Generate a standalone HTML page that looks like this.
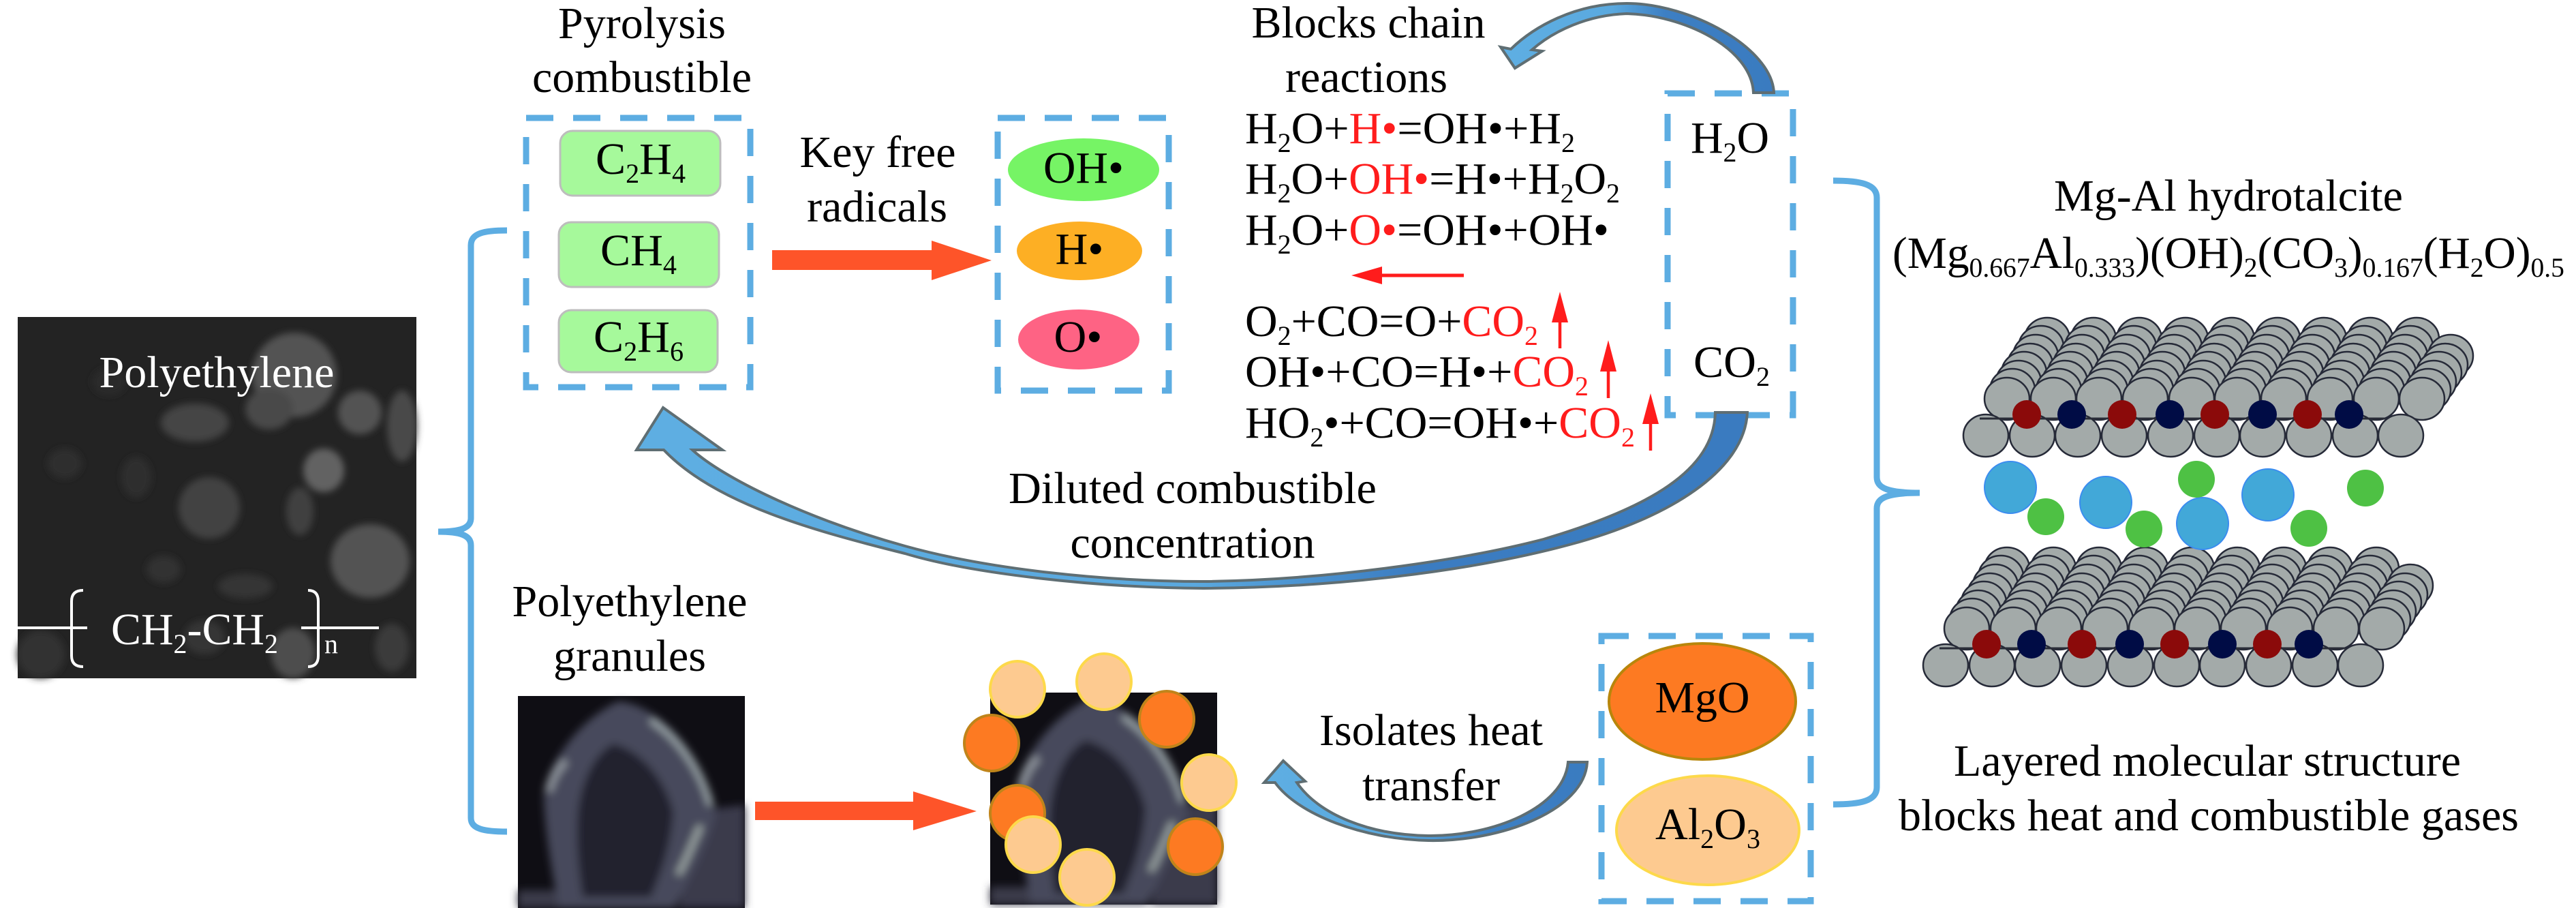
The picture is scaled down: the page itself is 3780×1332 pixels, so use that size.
<!DOCTYPE html>
<html><head><meta charset="utf-8">
<style>
html,body{margin:0;padding:0;background:#fff;}
svg{display:block;font-family:"Liberation Serif","Times New Roman",Times,"Nimbus Roman","Noto Serif CJK SC","DejaVu Serif",serif;}
svg text{font-family:"Liberation Serif","Times New Roman",Times,"Nimbus Roman","Noto Serif CJK SC","DejaVu Serif",serif;font-size:66px;fill:#000;}
svg text .s, svg text.s{font-size:40px;}
.w{fill:#fff;}
.r{fill:#ff1c1c;}
</style></head><body>
<svg width="3780" height="1332" viewBox="0 0 3780 1332" xmlns="http://www.w3.org/2000/svg" xmlns:xlink="http://www.w3.org/1999/xlink" font-family="Liberation Serif, Times New Roman, serif">
<defs>
  <linearGradient id="gTop" gradientUnits="userSpaceOnUse" x1="2600" y1="0" x2="2210" y2="0">
    <stop offset="0" stop-color="#3a7bc0"/><stop offset="0.4" stop-color="#3d7fc3"/><stop offset="0.6" stop-color="#5aa9df"/><stop offset="1" stop-color="#5eaee2"/>
  </linearGradient>
  <linearGradient id="gBig" gradientUnits="userSpaceOnUse" x1="2565" y1="0" x2="940" y2="0">
    <stop offset="0" stop-color="#3a7bc0"/><stop offset="0.3" stop-color="#3b7cc1"/><stop offset="0.5" stop-color="#5aa9df"/><stop offset="1" stop-color="#5eaee2"/>
  </linearGradient>
  <linearGradient id="gSm" gradientUnits="userSpaceOnUse" x1="2330" y1="0" x2="1855" y2="0">
    <stop offset="0" stop-color="#3a7bc0"/><stop offset="0.3" stop-color="#3d80c4"/><stop offset="0.6" stop-color="#5aa9df"/><stop offset="1" stop-color="#5eaee2"/>
  </linearGradient>
  <filter id="blur4"><feGaussianBlur stdDeviation="5"/></filter>
  <filter id="blur5"><feGaussianBlur stdDeviation="6"/></filter>

  <g id="gran">
    <rect x="0" y="0" width="333" height="311" fill="#0f0e14"/>
    <g filter="url(#blur5)">
      <path d="M287,165 L333,160 L333,311 L235,311 C245,270 262,220 287,165 Z" fill="#3a3a4c"/>
      <rect x="0" y="285" width="90" height="26" fill="#3a3a4a"/>
      <path d="M147,8 C200,12 260,70 285,150 L290,175 C275,230 250,270 230,311 L60,311 C50,260 40,200 38,150 C40,110 80,40 147,8 Z" fill="#474a5c"/>
      <path d="M140,70 C180,80 215,120 228,170 C225,220 210,260 195,295 L95,295 C88,250 85,210 88,170 C92,130 110,85 140,70 Z" fill="#24222f"/>
      <path d="M195,35 C235,60 270,110 283,160" stroke="#9aa4a8" stroke-width="9" fill="none"/>
      <path d="M70,95 C55,110 48,125 45,140" stroke="#8a9098" stroke-width="12" fill="none"/>
      <path d="M268,190 C255,220 245,245 235,262" stroke="#a0aaa8" stroke-width="8" fill="none"/>
    </g>
  </g>

  <g id="slab" fill="#a3aaa9" stroke="#262a38" stroke-width="2.5">
    <g>
      <ellipse cx="3004" cy="497" rx="33" ry="31"/><ellipse cx="3072" cy="497" rx="33" ry="31"/><ellipse cx="3139" cy="497" rx="33" ry="31"/><ellipse cx="3207" cy="497" rx="33" ry="31"/><ellipse cx="3275" cy="497" rx="33" ry="31"/><ellipse cx="3342" cy="497" rx="33" ry="31"/><ellipse cx="3410" cy="497" rx="33" ry="31"/><ellipse cx="3478" cy="497" rx="33" ry="31"/><ellipse cx="3546" cy="497" rx="33" ry="31"/>
    </g>
    <g>
      <ellipse cx="2995" cy="509" rx="33" ry="31"/><ellipse cx="3063" cy="509" rx="33" ry="31"/><ellipse cx="3131" cy="509" rx="33" ry="31"/><ellipse cx="3198" cy="509" rx="33" ry="31"/><ellipse cx="3266" cy="509" rx="33" ry="31"/><ellipse cx="3334" cy="509" rx="33" ry="31"/><ellipse cx="3402" cy="509" rx="33" ry="31"/><ellipse cx="3469" cy="509" rx="33" ry="31"/><ellipse cx="3537" cy="509" rx="33" ry="31"/>
    </g>
    <g>
      <ellipse cx="2987" cy="522" rx="33" ry="31"/><ellipse cx="3055" cy="522" rx="33" ry="31"/><ellipse cx="3122" cy="522" rx="33" ry="31"/><ellipse cx="3190" cy="522" rx="33" ry="31"/><ellipse cx="3258" cy="522" rx="33" ry="31"/><ellipse cx="3326" cy="522" rx="33" ry="31"/><ellipse cx="3393" cy="522" rx="33" ry="31"/><ellipse cx="3461" cy="522" rx="33" ry="31"/><ellipse cx="3529" cy="522" rx="33" ry="31"/><ellipse cx="3596" cy="522" rx="33" ry="31"/>
    </g>
    <g>
      <ellipse cx="2979" cy="535" rx="33" ry="31"/><ellipse cx="3046" cy="535" rx="33" ry="31"/><ellipse cx="3114" cy="535" rx="33" ry="31"/><ellipse cx="3182" cy="535" rx="33" ry="31"/><ellipse cx="3249" cy="535" rx="33" ry="31"/><ellipse cx="3317" cy="535" rx="33" ry="31"/><ellipse cx="3385" cy="535" rx="33" ry="31"/><ellipse cx="3453" cy="535" rx="33" ry="31"/><ellipse cx="3520" cy="535" rx="33" ry="31"/><ellipse cx="3588" cy="535" rx="33" ry="31"/>
    </g>
    <g>
      <ellipse cx="2970" cy="547" rx="33" ry="31"/><ellipse cx="3038" cy="547" rx="33" ry="31"/><ellipse cx="3106" cy="547" rx="33" ry="31"/><ellipse cx="3173" cy="547" rx="33" ry="31"/><ellipse cx="3241" cy="547" rx="33" ry="31"/><ellipse cx="3309" cy="547" rx="33" ry="31"/><ellipse cx="3376" cy="547" rx="33" ry="31"/><ellipse cx="3444" cy="547" rx="33" ry="31"/><ellipse cx="3512" cy="547" rx="33" ry="31"/><ellipse cx="3579" cy="547" rx="33" ry="31"/>
    </g>
    <g>
      <ellipse cx="2962" cy="560" rx="33" ry="31"/><ellipse cx="3030" cy="560" rx="33" ry="31"/><ellipse cx="3097" cy="560" rx="33" ry="31"/><ellipse cx="3165" cy="560" rx="33" ry="31"/><ellipse cx="3233" cy="560" rx="33" ry="31"/><ellipse cx="3300" cy="560" rx="33" ry="31"/><ellipse cx="3368" cy="560" rx="33" ry="31"/><ellipse cx="3436" cy="560" rx="33" ry="31"/><ellipse cx="3504" cy="560" rx="33" ry="31"/><ellipse cx="3571" cy="560" rx="33" ry="31"/>
    </g>
    <g>
      <ellipse cx="2953" cy="572" rx="33" ry="31"/><ellipse cx="3021" cy="572" rx="33" ry="31"/><ellipse cx="3089" cy="572" rx="33" ry="31"/><ellipse cx="3156" cy="572" rx="33" ry="31"/><ellipse cx="3224" cy="572" rx="33" ry="31"/><ellipse cx="3292" cy="572" rx="33" ry="31"/><ellipse cx="3360" cy="572" rx="33" ry="31"/><ellipse cx="3427" cy="572" rx="33" ry="31"/><ellipse cx="3495" cy="572" rx="33" ry="31"/><ellipse cx="3563" cy="572" rx="33" ry="31"/>
    </g>
    <g>
      <ellipse cx="2945" cy="585" rx="33" ry="31"/><ellipse cx="3013" cy="585" rx="33" ry="31"/><ellipse cx="3080" cy="585" rx="33" ry="31"/><ellipse cx="3148" cy="585" rx="33" ry="31"/><ellipse cx="3216" cy="585" rx="33" ry="31"/><ellipse cx="3283" cy="585" rx="33" ry="31"/><ellipse cx="3351" cy="585" rx="33" ry="31"/><ellipse cx="3419" cy="585" rx="33" ry="31"/><ellipse cx="3487" cy="585" rx="33" ry="31"/><ellipse cx="3554" cy="585" rx="33" ry="31"/>
    </g>
    <g>
      <ellipse cx="2914" cy="639" rx="33" ry="31"/><ellipse cx="2982" cy="639" rx="33" ry="31"/><ellipse cx="3049" cy="639" rx="33" ry="31"/><ellipse cx="3117" cy="639" rx="33" ry="31"/><ellipse cx="3185" cy="639" rx="33" ry="31"/><ellipse cx="3253" cy="639" rx="33" ry="31"/><ellipse cx="3320" cy="639" rx="33" ry="31"/><ellipse cx="3388" cy="639" rx="33" ry="31"/><ellipse cx="3456" cy="639" rx="33" ry="31"/><ellipse cx="3523" cy="639" rx="33" ry="31"/>
    </g>
    <line x1="2905" y1="614" x2="3500" y2="614" stroke="#2a2d38" stroke-width="3"/>
    <g stroke="none">
      <ellipse cx="2974" cy="608" rx="21" ry="21" fill="#8b0a0a"/>
      <ellipse cx="3040" cy="608" rx="21" ry="21" fill="#000c45"/>
      <ellipse cx="3114" cy="608" rx="21" ry="21" fill="#8b0a0a"/>
      <ellipse cx="3184" cy="608" rx="21" ry="21" fill="#000c45"/>
      <ellipse cx="3250" cy="608" rx="21" ry="21" fill="#8b0a0a"/>
      <ellipse cx="3320" cy="608" rx="21" ry="21" fill="#000c45"/>
      <ellipse cx="3386" cy="608" rx="21" ry="21" fill="#8b0a0a"/>
      <ellipse cx="3447" cy="608" rx="21" ry="21" fill="#000c45"/>
    </g>
  </g>
</defs>

<rect x="0" y="0" width="3780" height="1332" fill="#fff"/>

<!-- SEM image -->
<rect x="26" y="465" width="585" height="530" fill="#232323"/>
<g filter="url(#blur4)">
  <ellipse cx="432" cy="550" rx="62" ry="62" fill="#525252"/>
  <ellipse cx="395" cy="600" rx="35" ry="30" fill="#484848"/>
  <ellipse cx="475" cy="690" rx="30" ry="32" fill="#626262"/>
  <ellipse cx="528" cy="605" rx="32" ry="32" fill="#525252"/>
  <ellipse cx="590" cy="625" rx="22" ry="52" fill="#4a4a4a"/>
  <ellipse cx="543" cy="823" rx="58" ry="54" fill="#525252"/>
  <ellipse cx="286" cy="620" rx="50" ry="28" fill="#444"/>
  <ellipse cx="307" cy="745" rx="45" ry="45" fill="#434343"/>
  <ellipse cx="440" cy="750" rx="20" ry="35" fill="#404040"/>
  <ellipse cx="430" cy="958" rx="32" ry="37" fill="#4e4e4e"/>
  <ellipse cx="575" cy="950" rx="25" ry="35" fill="#3a3a3a"/>
  <ellipse cx="60" cy="960" rx="35" ry="35" fill="#333"/>
  <ellipse cx="95" cy="680" rx="25" ry="22" fill="#2e2e2e"/>
  <ellipse cx="200" cy="700" rx="22" ry="30" fill="#2e2e2e"/>
  <ellipse cx="360" cy="860" rx="40" ry="18" fill="#363636"/>
  <ellipse cx="240" cy="835" rx="25" ry="20" fill="#303030"/>
  <ellipse cx="300" cy="935" rx="30" ry="25" fill="#363636"/>
  <ellipse cx="160" cy="560" rx="25" ry="20" fill="#2c2c2c"/>
</g>
<text class="w" x="318" y="568" text-anchor="middle" textLength="345" lengthAdjust="spacingAndGlyphs">Polyethylene</text>
<g stroke="#fff" stroke-width="4" fill="none">
  <line x1="26" y1="921" x2="128" y2="921"/>
  <line x1="442" y1="921" x2="556" y2="921"/>
  <path d="M122,866 Q105,866 105,882 L105,962 Q105,978 122,978"/>
  <path d="M452,866 Q467,866 467,882 L467,962 Q467,978 452,978"/>
</g>
<text class="w" x="163" y="945" textLength="245" lengthAdjust="spacingAndGlyphs">CH<tspan class="s" dy="13">2</tspan><tspan dy="-13">-CH</tspan><tspan class="s" dy="13">2</tspan></text>
<text class="w s" x="476" y="958">n</text>

<!-- Left bracket -->
<path d="M744,338 C710,338 691,342 691,360 L691,760 C691,775 675,780 643,780 C675,780 691,785 691,800 L691,1200 C691,1216 710,1220 744,1220" stroke="#5dade2" stroke-width="9" fill="none"/>

<!-- Pyrolysis combustible -->
<text x="942" y="56" text-anchor="middle" textLength="246" lengthAdjust="spacingAndGlyphs">Pyrolysis</text>
<text x="942" y="135" text-anchor="middle" textLength="322" lengthAdjust="spacingAndGlyphs">combustible</text>
<rect x="772" y="173" width="329" height="395" fill="none" stroke="#5dade2" stroke-width="9" stroke-dasharray="40 29"/>
<rect x="822" y="192" width="235" height="95" rx="18" fill="#a6f99b" stroke="#bdbdbd" stroke-width="3"/>
<rect x="820" y="326" width="235" height="95" rx="18" fill="#a6f99b" stroke="#bdbdbd" stroke-width="3"/>
<rect x="820" y="455" width="233" height="91" rx="18" fill="#a6f99b" stroke="#bdbdbd" stroke-width="3"/>
<text x="940" y="255" text-anchor="middle" textLength="132" lengthAdjust="spacingAndGlyphs">C<tspan class="s" dy="13">2</tspan><tspan dy="-13">H</tspan><tspan class="s" dy="13">4</tspan></text>
<text x="937" y="389" text-anchor="middle" textLength="112" lengthAdjust="spacingAndGlyphs">CH<tspan class="s" dy="13">4</tspan></text>
<text x="937" y="516" text-anchor="middle" textLength="132" lengthAdjust="spacingAndGlyphs">C<tspan class="s" dy="13">2</tspan><tspan dy="-13">H</tspan><tspan class="s" dy="13">6</tspan></text>

<!-- Key free radicals -->
<text x="1288" y="245" text-anchor="middle" textLength="229" lengthAdjust="spacingAndGlyphs">Key free</text>
<text x="1287" y="325" text-anchor="middle" textLength="206" lengthAdjust="spacingAndGlyphs">radicals</text>
<path d="M1133,367 L1367,367 L1367,353 L1455,382 L1367,411 L1367,396 L1133,396 Z" fill="#fe5429"/>

<rect x="1464" y="173" width="251" height="400" fill="none" stroke="#5dade2" stroke-width="9" stroke-dasharray="40 29"/>
<ellipse cx="1590" cy="249" rx="111" ry="46" fill="#76f465"/>
<ellipse cx="1584" cy="368" rx="92" ry="43" fill="#fdaf24"/>
<ellipse cx="1583" cy="498" rx="89" ry="44" fill="#fe6384"/>
<text x="1590" y="268" text-anchor="middle" textLength="118" lengthAdjust="spacingAndGlyphs">OH•</text>
<text x="1584" y="387" text-anchor="middle" textLength="71" lengthAdjust="spacingAndGlyphs">H•</text>
<text x="1582" y="516" text-anchor="middle" textLength="71" lengthAdjust="spacingAndGlyphs">O•</text>

<!-- Blocks chain reactions -->
<text x="2008" y="55" text-anchor="middle" textLength="343" lengthAdjust="spacingAndGlyphs">Blocks chain</text>
<text x="2005" y="135" text-anchor="middle" textLength="238" lengthAdjust="spacingAndGlyphs">reactions</text>
<text x="1827" y="210" textLength="484" lengthAdjust="spacingAndGlyphs">H<tspan class="s" dy="13">2</tspan><tspan dy="-13">O+</tspan><tspan class="r">H•</tspan><tspan>=OH•+H</tspan><tspan class="s" dy="13">2</tspan></text>
<text x="1827" y="284" textLength="550" lengthAdjust="spacingAndGlyphs">H<tspan class="s" dy="13">2</tspan><tspan dy="-13">O+</tspan><tspan class="r">OH•</tspan><tspan>=H•+H</tspan><tspan class="s" dy="13">2</tspan><tspan dy="-13">O</tspan><tspan class="s" dy="13">2</tspan></text>
<text x="1827" y="359" textLength="534" lengthAdjust="spacingAndGlyphs">H<tspan class="s" dy="13">2</tspan><tspan dy="-13">O+</tspan><tspan class="r">O•</tspan><tspan>=OH•+OH•</tspan></text>
<text x="1827" y="493" textLength="430" lengthAdjust="spacingAndGlyphs">O<tspan class="s" dy="13">2</tspan><tspan dy="-13">+CO=O+</tspan><tspan class="r">CO</tspan><tspan class="s r" dy="13">2</tspan></text>
<text x="1827" y="567" textLength="504" lengthAdjust="spacingAndGlyphs">OH•+CO=H•+<tspan class="r">CO</tspan><tspan class="s r" dy="13">2</tspan></text>
<text x="1827" y="642" textLength="572" lengthAdjust="spacingAndGlyphs">HO<tspan class="s" dy="13">2</tspan><tspan dy="-13">•+CO=OH•+</tspan><tspan class="r">CO</tspan><tspan class="s r" dy="13">2</tspan></text>

<!-- red arrows -->
<g fill="#ff1c1c" stroke="#ff1c1c">
  <line x1="2148" y1="404" x2="2020" y2="404" stroke-width="5"/>
  <path d="M1983,404 L2028,391 L2028,417 Z" stroke="none"/>
  <line x1="2289" y1="511" x2="2289" y2="465" stroke-width="4.5"/>
  <path d="M2289,428 L2301,473 L2277,473 Z" stroke="none"/>
  <line x1="2360" y1="584" x2="2360" y2="537" stroke-width="4.5"/>
  <path d="M2360,499 L2372,545 L2348,545 Z" stroke="none"/>
  <line x1="2422" y1="661" x2="2422" y2="614" stroke-width="4.5"/>
  <path d="M2422,577 L2434,622 L2410,622 Z" stroke="none"/>
</g>

<!-- H2O / CO2 box -->
<rect x="2447" y="137" width="184" height="472" fill="none" stroke="#5dade2" stroke-width="9" stroke-dasharray="40 29"/>
<text x="2481" y="224" textLength="115" lengthAdjust="spacingAndGlyphs">H<tspan class="s" dy="13">2</tspan><tspan dy="-13">O</tspan></text>
<text x="2485" y="553" textLength="112" lengthAdjust="spacingAndGlyphs">CO<tspan class="s" dy="13">2</tspan></text>

<!-- top curved arrow -->
<path d="M2603,136 C2600,70 2480,5 2387,5 C2310,5 2250,40 2217,72 L2202,69 L2223,100 L2263,75 L2248,73 C2280,45 2330,22 2387,20 C2470,22 2570,70 2573,136 Z" fill="url(#gTop)" stroke="#5f6e73" stroke-width="4" stroke-linejoin="miter"/>

<!-- big curved arrow -->
<path d="M2564,605 C2560,690 2450,760 2303,799 C2150,840 1950,862 1766,863 C1600,862 1420,840 1328,812 C1200,780 1050,740 974,660 L934,660 L973,598 L1060,660 L1016,660 C1060,700 1180,760 1328,801 C1450,835 1620,853 1766,853 C1950,851 2150,821 2265,791 C2420,745 2515,690 2517,605 Z" fill="url(#gBig)" stroke="#5f6e73" stroke-width="4"/>

<text x="1750" y="738" text-anchor="middle" textLength="540" lengthAdjust="spacingAndGlyphs">Diluted combustible</text>
<text x="1750" y="818" text-anchor="middle" textLength="359" lengthAdjust="spacingAndGlyphs">concentration</text>

<!-- Polyethylene granules -->
<text x="924" y="904" text-anchor="middle" textLength="345" lengthAdjust="spacingAndGlyphs">Polyethylene</text>
<text x="924" y="984" text-anchor="middle" textLength="224" lengthAdjust="spacingAndGlyphs">granules</text>
<use xlink:href="#gran" href="#gran" transform="translate(760,1021)"/>
<path d="M1108,1176 L1340,1176 L1340,1161 L1433,1190 L1340,1218 L1340,1203 L1108,1203 Z" fill="#fe5429"/>

<use xlink:href="#gran" href="#gran" transform="translate(1453,1016)"/>
<g stroke-width="4">
  <ellipse cx="1493" cy="1011" rx="40" ry="41" fill="#fdca90" stroke="#fdd94a"/>
  <ellipse cx="1620" cy="1000" rx="40" ry="41" fill="#fdca90" stroke="#fdd94a"/>
  <ellipse cx="1712" cy="1055" rx="40" ry="41" fill="#fd7a22" stroke="#c0841a"/>
  <ellipse cx="1455" cy="1090" rx="40" ry="41" fill="#fd7a22" stroke="#c0841a"/>
  <ellipse cx="1774" cy="1148" rx="40" ry="41" fill="#fdca90" stroke="#fdd94a"/>
  <ellipse cx="1493" cy="1193" rx="40" ry="41" fill="#fd7a22" stroke="#c0841a"/>
  <ellipse cx="1516" cy="1239" rx="40" ry="41" fill="#fdca90" stroke="#fdd94a"/>
  <ellipse cx="1754" cy="1242" rx="40" ry="41" fill="#fd7a22" stroke="#c0841a"/>
  <ellipse cx="1595" cy="1287" rx="40" ry="41" fill="#fdca90" stroke="#fdd94a"/>
</g>

<!-- small curved arrow -->
<path d="M2329,1118 C2325,1190 2200,1235 2096,1233 C2000,1231 1905,1195 1871,1148 L1855,1148 L1883,1116 L1915,1146 L1903,1148 C1935,1195 2010,1225 2096,1226 C2190,1227 2295,1185 2301,1118 Z" fill="url(#gSm)" stroke="#5f6e73" stroke-width="4"/>
<text x="2100" y="1093" text-anchor="middle" textLength="328" lengthAdjust="spacingAndGlyphs">Isolates heat</text>
<text x="2100" y="1174" text-anchor="middle" textLength="202" lengthAdjust="spacingAndGlyphs">transfer</text>

<!-- oxides box -->
<rect x="2350" y="933" width="307" height="389" fill="none" stroke="#5dade2" stroke-width="9" stroke-dasharray="40 29"/>
<ellipse cx="2498" cy="1029" rx="137" ry="85" fill="#fd7a22" stroke="#b8860b" stroke-width="4"/>
<ellipse cx="2506" cy="1218" rx="134" ry="80" fill="#fdca90" stroke="#fdd94a" stroke-width="4"/>
<text x="2498" y="1045" text-anchor="middle" textLength="139" lengthAdjust="spacingAndGlyphs">MgO</text>
<text x="2506" y="1231" text-anchor="middle" textLength="154" lengthAdjust="spacingAndGlyphs">Al<tspan class="s" dy="13">2</tspan><tspan dy="-13">O</tspan><tspan class="s" dy="13">3</tspan></text>

<!-- Right bracket -->
<path d="M2690,265 C2730,265 2754,270 2754,290 L2754,700 C2754,716 2770,723 2817,723 C2770,723 2754,730 2754,746 L2754,1155 C2754,1175 2730,1180 2690,1180" stroke="#5dade2" stroke-width="9" fill="none"/>

<!-- Hydrotalcite -->
<text x="3270" y="309" text-anchor="middle" textLength="512" lengthAdjust="spacingAndGlyphs">Mg-Al hydrotalcite</text>
<text x="2777" y="393" textLength="986" lengthAdjust="spacingAndGlyphs">(Mg<tspan class="s" dy="13">0.667</tspan><tspan dy="-13">Al</tspan><tspan class="s" dy="13">0.333</tspan><tspan dy="-13">)(OH)</tspan><tspan class="s" dy="13">2</tspan><tspan dy="-13">(CO</tspan><tspan class="s" dy="13">3</tspan><tspan dy="-13">)</tspan><tspan class="s" dy="13">0.167</tspan><tspan dy="-13">(H</tspan><tspan class="s" dy="13">2</tspan><tspan dy="-13">O)</tspan><tspan class="s" dy="13">0.5</tspan></text>

<use xlink:href="#slab" href="#slab"/>
<use xlink:href="#slab" href="#slab" transform="translate(-59,337)"/>

<g>
  <ellipse cx="2950" cy="715" rx="38" ry="38" fill="#42a8d8" stroke="#3b8cf0" stroke-width="2"/>
  <ellipse cx="3090" cy="737" rx="38" ry="38" fill="#42a8d8" stroke="#3b8cf0" stroke-width="2"/>
  <ellipse cx="3232" cy="768" rx="38" ry="38" fill="#42a8d8" stroke="#3b8cf0" stroke-width="2"/>
  <ellipse cx="3328" cy="726" rx="38" ry="38" fill="#42a8d8" stroke="#3b8cf0" stroke-width="2"/>
  <ellipse cx="3002" cy="758" rx="27" ry="27" fill="#4ec144"/>
  <ellipse cx="3146" cy="776" rx="27" ry="27" fill="#4ec144"/>
  <ellipse cx="3223" cy="703" rx="27" ry="27" fill="#4ec144"/>
  <ellipse cx="3388" cy="775" rx="27" ry="27" fill="#4ec144"/>
  <ellipse cx="3471" cy="716" rx="27" ry="27" fill="#4ec144"/>
</g>

<text x="3239" y="1138" text-anchor="middle" textLength="744" lengthAdjust="spacingAndGlyphs">Layered molecular structure</text>
<text x="3241" y="1218" text-anchor="middle" textLength="910" lengthAdjust="spacingAndGlyphs">blocks heat and combustible gases</text>
</svg>
</body></html>
